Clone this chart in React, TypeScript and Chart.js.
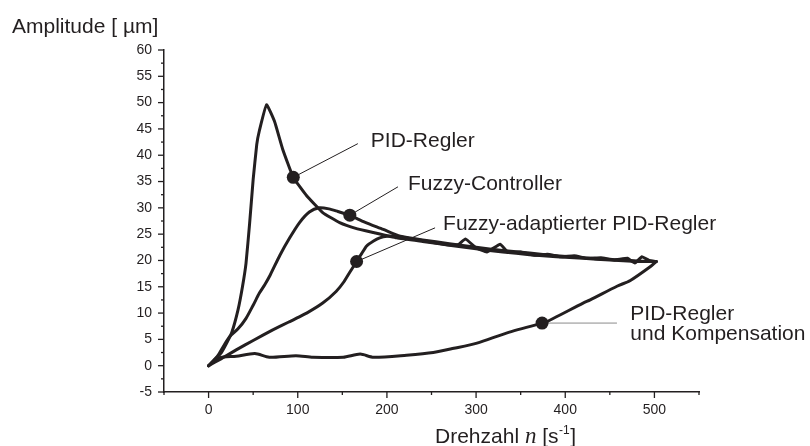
import React, { useEffect, useRef } from "react";
import { Chart, registerables } from "chart.js";

Chart.register(...registerables);

// ---- data (Drehzahl n [1/s] vs Amplitude [µm]) ----
const pidX = [0, 7, 14, 20, 26, 33, 38, 42, 46, 50, 54, 57, 65, 74, 83, 95, 110, 128, 147, 165, 185, 211, 240, 270, 300, 330, 360, 390, 420, 450, 480, 502];
const pidY = [0, 1.2, 2.4, 4.2, 6.3, 10.6, 15, 19.5, 27, 35.4, 42, 44.7, 49.6, 46.4, 41.2, 35.8, 32.3, 29.1, 27.2, 26.1, 25.3, 24.3, 23.6, 22.9, 22.2, 21.6, 21.1, 20.7, 20.4, 20.1, 19.8, 19.8];

const fuzzyX = [0, 10, 17, 24, 33, 42, 50, 57, 63, 69, 80, 91, 102, 113, 124, 135, 145, 158, 175, 196, 215, 240, 270, 300, 330, 360, 390, 420, 450, 480, 502];
const fuzzyY = [0, 1.8, 3.8, 5.6, 7.0, 9.0, 11.5, 13.8, 15.4, 17.2, 21.0, 24.3, 27.2, 29.2, 30.0, 29.8, 29.3, 28.6, 27.3, 25.9, 24.6, 23.9, 23.2, 22.5, 21.9, 21.4, 20.9, 20.5, 20.2, 19.9, 19.8];

const adaptX = [0, 15, 31, 50, 72, 90, 110, 128, 143, 152, 160, 166, 172, 177, 185, 192, 200, 210, 225, 240, 255, 268, 280, 288, 300, 312, 327, 336, 350, 365, 380, 395, 410, 425, 440, 455, 470, 478, 486, 494, 502];
const adaptY = [0, 1.4, 3.0, 4.8, 6.8, 8.3, 10.0, 11.9, 14.1, 16.0, 18.2, 19.8, 21.4, 22.7, 23.7, 24.3, 24.6, 24.6, 24.2, 23.8, 23.3, 23.0, 23.0, 24.1, 22.4, 21.6, 23.1, 21.5, 21.6, 21.0, 21.2, 20.7, 20.9, 20.4, 20.5, 20.1, 20.4, 19.5, 20.7, 20.0, 19.8];

const compX = [0, 12, 31, 52, 68, 98, 117, 151, 170, 185, 222, 252, 275, 301, 334, 368, 376, 420, 428, 458, 473, 496, 502];
const compY = [0, 1.5, 1.8, 2.3, 1.6, 1.9, 1.6, 1.6, 2.2, 1.6, 2.0, 2.5, 3.3, 4.3, 6.2, 7.8, 8.1, 11.9, 12.5, 15.1, 16.2, 18.9, 19.8];

const markerX = [95, 158.4, 166, 374];
const markerY = [35.8, 28.6, 19.8, 8.1];

const leaderEndX = [167.4, 212.4, 254, 458];
const leaderEndY = [42.2, 34.0, 26.2, 8.1];
const leaderColors = ["#231f20", "#231f20", "#231f20", "#8a8a8a"];

const labelTexts = ["PID-Regler", "Fuzzy-Controller", "Fuzzy-adaptierter PID-Regler", "PID-Regler", "und Kompensation"];
const labelX = [182, 223.6, 263, 473, 473];
const labelY = [41.6, 33.3, 25.8, 8.7, 4.9];

const xMajorTicks = [0, 100, 200, 300, 400, 500];
const yMajorTicks = [-5, 0, 5, 10, 15, 20, 25, 30, 35, 40, 45, 50, 55, 60];

const INK = "#231f20";
const SANS = '"Liberation Sans", Arial, sans-serif';

const toPts = (xs: number[], ys: number[]) => xs.map((x, i) => ({ x, y: ys[i] }));

const decorPlugin = {
  id: "decor",
  beforeDatasetsDraw(chart: any) {
    const { ctx, scales } = chart;
    const sx = scales.x;
    const sy = scales.y;
    ctx.save();
    ctx.lineWidth = 1;
    for (let i = 0; i < markerX.length; i++) {
      ctx.strokeStyle = leaderColors[i];
      ctx.beginPath();
      ctx.moveTo(sx.getPixelForValue(markerX[i]), sy.getPixelForValue(markerY[i]));
      ctx.lineTo(sx.getPixelForValue(leaderEndX[i]), sy.getPixelForValue(leaderEndY[i]));
      ctx.stroke();
    }
    ctx.restore();
  },
  afterDraw(chart: any) {
    const { ctx, scales, chartArea } = chart;
    const sx = scales.x;
    const sy = scales.y;
    ctx.save();
    // tick marks
    ctx.strokeStyle = INK;
    ctx.lineWidth = 1.3;
    for (const t of sx.ticks) {
      const px = sx.getPixelForValue(t.value);
      const len = xMajorTicks.includes(t.value) ? 6 : 3;
      ctx.beginPath();
      ctx.moveTo(px, chartArea.bottom);
      ctx.lineTo(px, chartArea.bottom + len);
      ctx.stroke();
    }
    for (const t of sy.ticks) {
      const py = sy.getPixelForValue(t.value);
      const len = yMajorTicks.includes(t.value) ? 6 : 3;
      ctx.beginPath();
      ctx.moveTo(chartArea.left, py);
      ctx.lineTo(chartArea.left - len, py);
      ctx.stroke();
    }
    // annotation labels
    ctx.fillStyle = INK;
    ctx.font = `21px ${SANS}`;
    ctx.textBaseline = "alphabetic";
    ctx.textAlign = "left";
    for (let i = 0; i < labelTexts.length; i++) {
      ctx.fillText(labelTexts[i], sx.getPixelForValue(labelX[i]), sy.getPixelForValue(labelY[i]));
    }
    // axis titles
    ctx.fillText("Amplitude [ µm]", 12, 33);
    let cx = 435;
    const by = 443;
    ctx.font = `21px ${SANS}`;
    ctx.fillText("Drehzahl ", cx, by);
    cx += ctx.measureText("Drehzahl ").width;
    ctx.font = `italic 23px "Liberation Serif", "Times New Roman", serif`;
    ctx.fillText("n", cx, by);
    cx += ctx.measureText("n").width;
    ctx.font = `21px ${SANS}`;
    ctx.fillText(" [s", cx, by);
    cx += ctx.measureText(" [s").width;
    ctx.font = `12px ${SANS}`;
    ctx.fillText("-1", cx + 0.5, by - 9);
    cx += ctx.measureText("-1").width + 1;
    ctx.font = `21px ${SANS}`;
    ctx.fillText("]", cx, by);
    ctx.restore();
  },
};

export default function App() {
  const ref = useRef<HTMLCanvasElement | null>(null);
  useEffect(() => {
    if (!ref.current) return;
    const lineDs = (xs: number[], ys: number[], tension: number) => ({
      type: "scatter" as const,
      data: toPts(xs, ys),
      showLine: true,
      borderColor: INK,
      borderWidth: 3,
      pointRadius: 0,
      tension,
      borderJoinStyle: "round" as const,
      borderCapStyle: "round" as const,
    });
    const chart = new Chart(ref.current, {
      type: "scatter",
      data: {
        datasets: [
          {
            data: toPts(markerX, markerY),
            pointRadius: 6.5,
            pointBackgroundColor: INK,
            pointBorderWidth: 0,
            showLine: false,
          } as any,
          lineDs(pidX, pidY, 0.12),
          lineDs(fuzzyX, fuzzyY, 0.25),
          lineDs(adaptX, adaptY, 0.1),
          lineDs(compX, compY, 0.25),
        ],
      },
      options: {
        animation: false,
        responsive: false,
        devicePixelRatio: 1,
        layout: { padding: { top: 50, right: 111, left: 0, bottom: 0 } },
        plugins: { legend: { display: false }, tooltip: { enabled: false } },
        scales: {
          x: {
            type: "linear",
            min: -50,
            max: 550,
            grid: { display: false, drawTicks: false },
            border: { display: true, color: INK, width: 1.5 },
            ticks: {
              stepSize: 50,
              autoSkip: false,
              maxRotation: 0,
              padding: 10,
              color: INK,
              font: { family: SANS, size: 14 },
              callback: (v: any) => (xMajorTicks.includes(Number(v)) ? String(v) : ""),
            },
            afterFit: (s: any) => {
              s.height = 54;
            },
          },
          y: {
            type: "linear",
            min: -5,
            max: 60,
            grid: { display: false, drawTicks: false },
            border: { display: true, color: INK, width: 1.5 },
            ticks: {
              stepSize: 2.5,
              autoSkip: false,
              padding: 12,
              color: INK,
              font: { family: SANS, size: 14 },
              callback: (v: any) => (yMajorTicks.includes(Number(v)) ? String(v) : ""),
            },
            afterFit: (s: any) => {
              s.width = 164;
            },
          },
        },
      },
      plugins: [decorPlugin],
    });
    return () => chart.destroy();
  }, []);
  return (
    <div style={{ position: "absolute", left: 0, top: 0, width: 810, height: 446, background: "#fff" }}>
      <canvas ref={ref} width={810} height={446} style={{ display: "block" }} />
    </div>
  );
}
